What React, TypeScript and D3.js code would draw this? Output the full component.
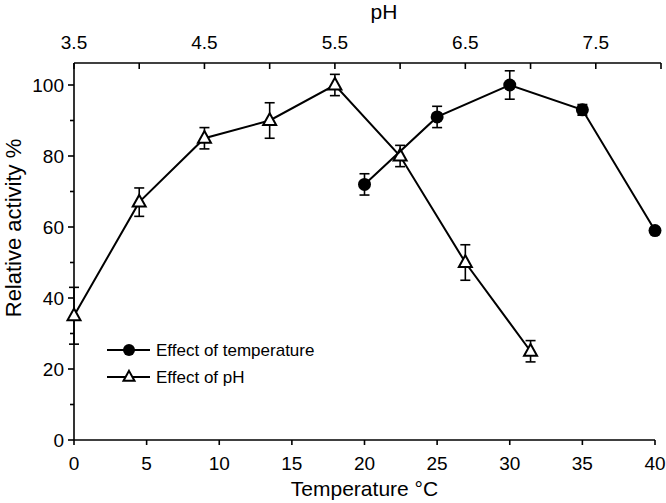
import React from "react";
import * as d3 from "d3";

const tempX = [20, 25, 30, 35, 40];
const tempAct = [72, 91, 100, 93, 59];
const tempErr = [3, 3, 4, 1.5, 0];

const pHX = [3.5, 4.0, 4.5, 5.0, 5.5, 6.0, 6.5, 7.0];
const pHAct = [35, 67, 85, 90, 100, 80, 50, 25];
const pHErr = [8, 4, 3, 5, 3, 3, 5, 3];

const tempTicks = [0, 5, 10, 15, 20, 25, 30, 35, 40];
const pHTicks = [3.5, 4.0, 4.5, 5.0, 5.5, 6.0, 6.5, 7.0, 7.5, 8.0];
const pHLabels = [3.5, 4.5, 5.5, 6.5, 7.5];
const yMajor = [0, 20, 40, 60, 80, 100];
const yMinor = [10, 30, 50, 70, 90];

const FONT = "'Liberation Sans', Arial, sans-serif";

export default function App() {
  const W = 666, H = 503;
  const x = d3.scaleLinear().domain([0, 40]).range([74, 655]);
  const xp = d3.scaleLinear().domain([3.5, 8.0]).range([74, 661]);
  const y = d3.scaleLinear().domain([0, 100]).range([440, 85]);
  const yTop = y(106.2);

  const line = d3.line<[number, number]>().x(d => d[0]).y(d => d[1]);
  const tempPts: [number, number][] = tempX.map((t, i) => [x(t), y(tempAct[i])]);
  const pHPts: [number, number][] = pHX.map((p, i) => [xp(p), y(pHAct[i])]);

  const tri = (cx: number, cy: number, s = 13) => {
    const h = s * 0.9;
    return `M${cx},${cy - h * 0.62}L${cx + s / 2},${cy + h * 0.38}L${cx - s / 2},${cy + h * 0.38}Z`;
  };

  const errBar = (cx: number, v: number, e: number, key: string) => {
    if (e <= 0) return null;
    const y1 = y(v + e), y2 = y(v - e);
    return (
      <g key={key} stroke="#000" strokeWidth={1.6}>
        <line x1={cx} x2={cx} y1={y1} y2={y2} />
        <line x1={cx - 5} x2={cx + 5} y1={y1} y2={y1} />
        <line x1={cx - 5} x2={cx + 5} y1={y2} y2={y2} />
      </g>
    );
  };

  return (
    <svg width={W} height={H} style={{ position: "absolute", left: 0, top: 0, background: "#fff" }} fontFamily={FONT}>
      <rect width={W} height={H} fill="#fff" />
      {/* left axis */}
      <line x1={x(0)} x2={x(0)} y1={yTop} y2={y(0)} stroke="#000" strokeWidth={1.6} />
      {yMajor.map(v => (
        <g key={"ym" + v}>
          <line x1={x(0) - 6} x2={x(0)} y1={y(v)} y2={y(v)} stroke="#000" strokeWidth={1.6} />
          <text x={x(0) - 10} y={y(v)} dy="0.36em" textAnchor="end" fontSize={19}>{v}</text>
        </g>
      ))}
      {yMinor.map(v => (
        <line key={"yn" + v} x1={x(0) - 4} x2={x(0)} y1={y(v)} y2={y(v)} stroke="#000" strokeWidth={1.6} />
      ))}
      {/* bottom axis */}
      <line x1={x(0)} x2={x(40)} y1={y(0)} y2={y(0)} stroke="#000" strokeWidth={1.6} />
      {tempTicks.map(t => (
        <g key={"xt" + t}>
          <line x1={x(t)} x2={x(t)} y1={y(0)} y2={y(0) + 5} stroke="#000" strokeWidth={1.6} />
          <text x={x(t)} y={470} textAnchor="middle" fontSize={19}>{t}</text>
        </g>
      ))}
      <text x={(x(0) + x(40)) / 2} y={496} textAnchor="middle" fontSize={21}>Temperature °C</text>
      {/* top axis */}
      <line x1={xp(3.5)} x2={xp(8.0)} y1={yTop} y2={yTop} stroke="#000" strokeWidth={1.6} />
      {pHTicks.map(p => (
        <line key={"pt" + p} x1={xp(p)} x2={xp(p)} y1={yTop} y2={yTop + 6} stroke="#000" strokeWidth={1.6} />
      ))}
      {pHLabels.map(p => (
        <text key={"pl" + p} x={xp(p)} y={49} textAnchor="middle" fontSize={19}>{p.toFixed(1)}</text>
      ))}
      <text x={384} y={19} textAnchor="middle" fontSize={21}>pH</text>
      {/* y title */}
      <text transform="translate(21,228) rotate(-90)" textAnchor="middle" fontSize={22}>Relative activity %</text>

      {/* pH series */}
      {pHX.map((p, i) => errBar(xp(p), pHAct[i], pHErr[i], "pe" + i))}
      <path d={line(pHPts) || ""} fill="none" stroke="#000" strokeWidth={2} />
      {pHPts.map((pt, i) => (
        <path key={"ptri" + i} d={tri(pt[0], pt[1])} fill="#fff" stroke="#000" strokeWidth={2} />
      ))}

      {/* temperature series */}
      {tempX.map((t, i) => errBar(x(t), tempAct[i], tempErr[i], "te" + i))}
      <path d={line(tempPts) || ""} fill="none" stroke="#000" strokeWidth={2} />
      {tempPts.map((pt, i) => (
        <circle key={"tc" + i} cx={pt[0]} cy={pt[1]} r={6.5} fill="#000" />
      ))}

      {/* legend */}
      <g>
        <line x1={107} x2={150} y1={350} y2={350} stroke="#000" strokeWidth={2} />
        <circle cx={129} cy={350} r={6} fill="#000" />
        <text x={156} y={350} dy="0.36em" fontSize={17}>Effect of temperature</text>
        <line x1={107} x2={150} y1={377} y2={377} stroke="#000" strokeWidth={2} />
        <path d={tri(129, 377, 11)} fill="#fff" stroke="#000" strokeWidth={2} />
        <text x={156} y={377} dy="0.36em" fontSize={17}>Effect of pH</text>
      </g>
    </svg>
  );
}
